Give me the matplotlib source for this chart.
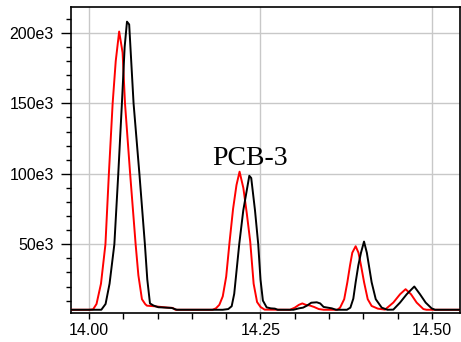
import matplotlib
matplotlib.use("Agg")
import matplotlib.pyplot as plt
from matplotlib.ticker import FixedLocator, FuncFormatter, MultipleLocator

# ---- data (retention time in min, intensity in thousands of counts) ----
red_t = [13.970, 14.000, 14.006, 14.011, 14.0175, 14.024, 14.029, 14.0345, 14.039, 14.044,
         14.049, 14.0525, 14.060, 14.068, 14.072, 14.0772, 14.082, 14.0845, 14.095, 14.105,
         14.115, 14.122, 14.126, 14.180, 14.185, 14.190, 14.195, 14.200, 14.205, 14.210,
         14.215, 14.2195, 14.225, 14.230, 14.235, 14.240, 14.245, 14.250, 14.256, 14.293,
         14.300, 14.306, 14.311, 14.316, 14.322, 14.328, 14.335, 14.342, 14.362, 14.366,
         14.372, 14.3766, 14.3805, 14.3838, 14.3887, 14.3928, 14.3965, 14.401, 14.4063, 14.412,
         14.421, 14.4315, 14.4436, 14.4534, 14.4615, 14.4694, 14.4776, 14.4874, 14.492, 14.545]
red_v = [3.5, 3.5, 3.8, 7.6, 22, 50, 100, 150, 180, 201,
         186, 150, 100, 50, 28, 11, 7.5, 6.4, 6.0, 5.5,
         5.0, 4.8, 3.5, 3.5, 4.5, 7, 13, 27, 52, 75,
         92, 101.5, 90, 72, 52, 22, 9, 5.5, 3.6, 3.5,
         5, 7, 8, 7, 6.5, 5.5, 4, 3.5, 3.5, 5,
         11, 23, 35, 44, 48.6, 44, 35, 23, 11, 6.2,
         4.3, 3.6, 8.6, 14.5, 18.1, 14.5, 8.6, 4, 3.5, 3.5]

black_t = [13.970, 14.018, 14.0242, 14.030, 14.037, 14.0427, 14.048, 14.052, 14.0554, 14.0586,
           14.065, 14.0735, 14.0815, 14.085, 14.0889, 14.094, 14.101, 14.1205, 14.128, 14.195,
           14.203, 14.208, 14.2117, 14.219, 14.2249, 14.2337, 14.2365, 14.242, 14.2467, 14.250,
           14.2535, 14.259, 14.265, 14.271, 14.275, 14.298, 14.306, 14.312, 14.318, 14.324,
           14.332, 14.337, 14.342, 14.348, 14.354, 14.360, 14.376, 14.381, 14.3853, 14.3887,
           14.3926, 14.3965, 14.4009, 14.405, 14.408, 14.412, 14.418, 14.4267, 14.435, 14.4436,
           14.4534, 14.4631, 14.4742, 14.4825, 14.4907, 14.4994, 14.5044, 14.545]
black_v = [3.5, 3.5, 7.6, 22, 50, 100, 150, 190, 208, 206,
           150, 100, 50, 25, 8, 6.5, 5.3, 4.8, 3.5, 3.5,
           4, 6, 14.8, 50, 74, 98.6, 97, 74, 50, 25,
           10, 5.2, 4.5, 4.3, 3.5, 3.5, 4.5, 5, 6.5, 8.5,
           8.8, 8, 5.5, 5, 4.5, 3.5, 3.5, 5, 11.4, 23,
           35, 44, 51.9, 44, 35, 23, 11, 5, 3.5, 3.6,
           8.6, 14.5, 20, 14.5, 8.6, 4.5, 3.5, 3.5]

x_major = [14.00, 14.25, 14.50]
x_labels = ["14.00", "14.25", "14.50"]
y_major_k = [50, 100, 150, 200]
peak_label = "PCB-3"

# ---- figure ----
W, H = 461, 342
fig = plt.figure(figsize=(W / 100, H / 100), dpi=100)
ax = fig.add_axes([71 / W, (H - 313) / H, (460 - 71) / W, (313 - 7) / H])

ax.plot(red_t, [v * 1000 for v in red_v], color="#ff0000", lw=1.4, zorder=3)
ax.plot(black_t, [v * 1000 for v in black_v], color="#000000", lw=1.4, zorder=4)

ax.set_xlim(13.9738, 14.5408)
ax.set_ylim(1.2e3, 218.4e3)

ax.xaxis.set_major_locator(FixedLocator(x_major))
ax.xaxis.set_major_formatter(FuncFormatter(lambda v, p: x_labels[x_major.index(round(v, 2))] if round(v, 2) in x_major else ""))
ax.xaxis.set_minor_locator(MultipleLocator(0.05))
ax.yaxis.set_major_locator(FixedLocator([k * 1000 for k in y_major_k]))
ax.yaxis.set_major_formatter(FuncFormatter(lambda v, p: f"{int(round(v / 1000))}e3"))
ax.yaxis.set_minor_locator(MultipleLocator(10e3))

ax.grid(True, which="major", color="#c8c8c8", lw=1.0, zorder=0)
ax.set_axisbelow(True)

for s in ax.spines.values():
    s.set_linewidth(1.2)
    s.set_color("black")

ax.tick_params(axis="y", which="major", direction="out", length=7.5, width=1.0, pad=5,
               labelsize=11.5, labelfontfamily="Liberation Sans")
ax.tick_params(axis="y", which="minor", direction="out", length=3.8, width=1.0)
ax.tick_params(axis="x", which="major", direction="out", length=4.5, width=1.0, pad=3,
               labelsize=11.5, labelfontfamily="Liberation Sans")
ax.tick_params(axis="x", which="minor", direction="out", length=4.0, width=1.0)

ax.text(14.179, 106e3, peak_label, fontsize=20, family="Liberation Serif",
        ha="left", va="baseline", zorder=5)

fig.savefig("out.png", dpi=100)
